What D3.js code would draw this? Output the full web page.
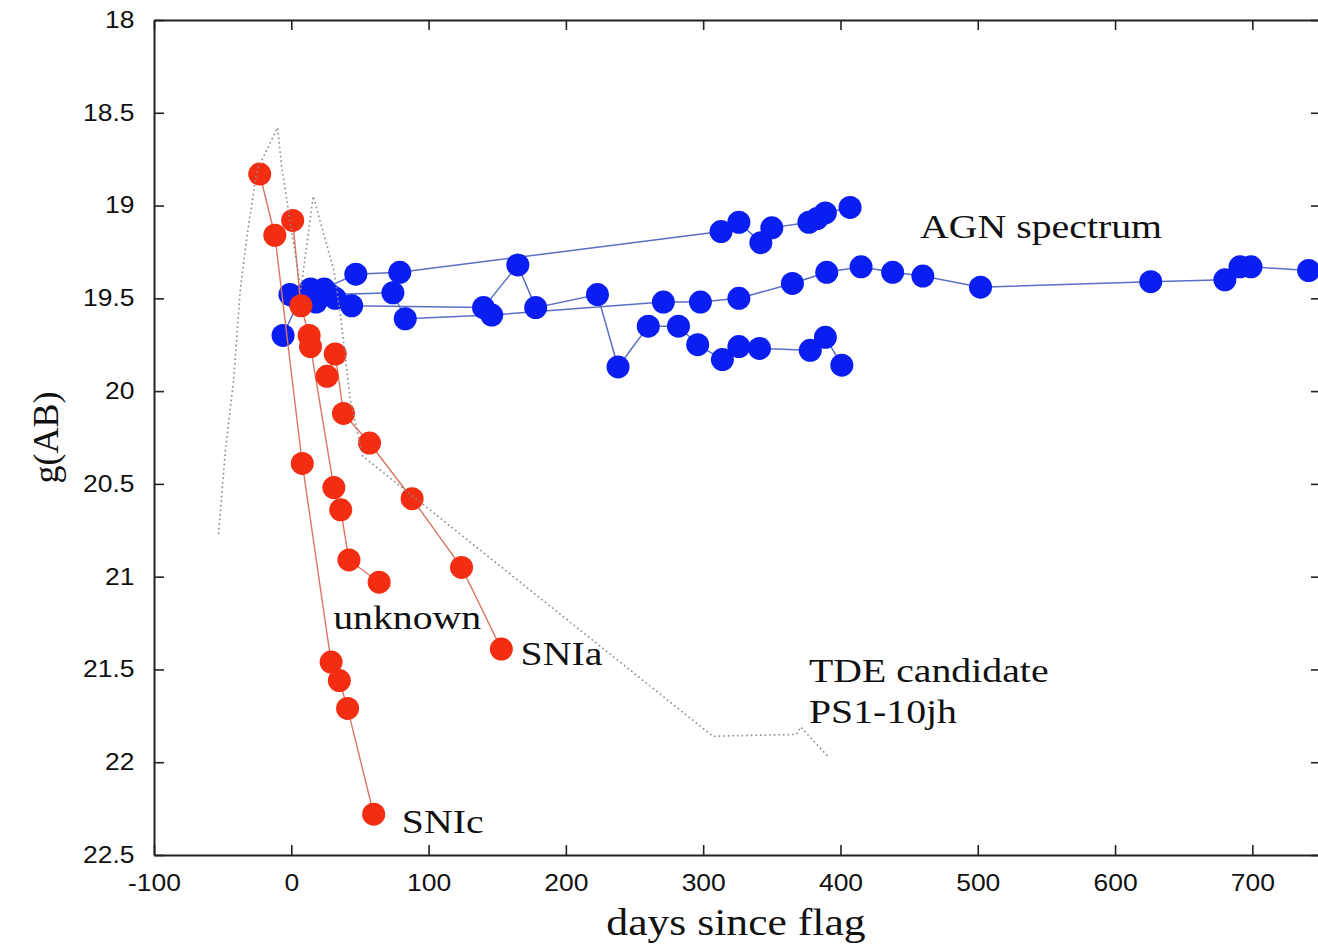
<!DOCTYPE html>
<html>
<head>
<meta charset="utf-8">
<script src="https://cdn.jsdelivr.net/npm/d3@7"></script>
<style>
  html, body { margin: 0; padding: 0; background: #fff; }
  svg { display: block; }
</style>
</head>
<body>
<div id="chart"></div>
<script>
// axis ticks
var xTicks = [-100, 0, 100, 200, 300, 400, 500, 600, 700];
var yTicks = [18, 18.5, 19, 19.5, 20, 20.5, 21, 21.5, 22, 22.5];

// supernovae (red)
var snicDays = [-23, -12, 8, 29, 35, 41, 60];
var snicMags = [18.83, 19.16, 20.39, 21.46, 21.56, 21.71, 22.28];

var unknownDays = [1, 7, 13, 14, 31, 36, 42, 64];
var unknownMags = [19.08, 19.54, 19.70, 19.76, 20.52, 20.64, 20.91, 21.03];

var sniaDays = [26, 32, 38, 57, 88, 124, 153];
var sniaMags = [19.92, 19.80, 20.12, 20.28, 20.58, 20.95, 21.39];

// AGN-like light curves (blue)
var agnTopDays = [-6, 7, 20, 47, 79, 313, 326, 342, 350, 377, 383, 389, 407];
var agnTopMags = [19.70, 19.49, 19.46, 19.37, 19.36, 19.14, 19.09, 19.20, 19.12, 19.09, 19.07, 19.04, 19.01];

var agnMidDays = [-1, 14, 28, 74, 83, 146, 271, 298, 326, 365, 390, 415, 438, 460, 502, 626, 680, 691, 699, 741];
var agnMidMags = [19.48, 19.45, 19.48, 19.47, 19.61, 19.59, 19.52, 19.52, 19.50, 19.42, 19.36, 19.33, 19.36, 19.38, 19.44, 19.41, 19.40, 19.33, 19.33, 19.35];

var agnLowDays = [4, 18, 24, 32, 44, 140, 165, 178, 223, 238, 260, 282, 296, 314, 326, 341, 378, 389, 401];
var agnLowMags = [19.50, 19.52, 19.45, 19.50, 19.54, 19.55, 19.32, 19.55, 19.48, 19.87, 19.65, 19.65, 19.75, 19.83, 19.76, 19.77, 19.78, 19.71, 19.86];

// TDE candidate PS1-10jh (dotted)
var tdeDays = [-53, -48, -42, -37, -32, -25, -10, -7, -1, 7, 16, 31, 36, 43, 52, 307, 368, 371, 391];
var tdeMags = [20.77, 20.32, 19.94, 19.44, 19.15, 18.81, 18.58, 18.79, 19.08, 19.45, 18.95, 19.35, 19.60, 20.05, 20.35, 21.86, 21.85, 21.81, 21.97];

var W = 1318, H = 946;
var margin = {left: 154, top: 20, right: 1321, bottom: 855};

var sans = "'Liberation Sans', Arial, Helvetica, sans-serif";
var serif = "'Liberation Serif', 'Times New Roman', serif";
var stretch = 1.15;   // glyphs in the original are a bit wide

var x = d3.scaleLinear().domain([-100, 750]).range([margin.left, margin.right]);
var y = d3.scaleLinear().domain([18, 22.5]).range([margin.top, margin.bottom]);

var svg = d3.select("#chart").append("svg")
    .attr("width", W)
    .attr("height", H);

function zipSeries(days, mags) {
    return days.map(function(d, i) { return {d: d, m: mags[i]}; });
}

var line = d3.line()
    .x(function(p) { return x(p.d); })
    .y(function(p) { return y(p.m); });

// axes, ticks pointing inward
function styleAxis(g) {
    g.select(".domain").attr("stroke", "#222").attr("stroke-width", 2);
    g.selectAll(".tick line").attr("stroke", "#222").attr("stroke-width", 1.6);
}

svg.append("g")
    .attr("transform", "translate(" + margin.left + ",0)")
    .call(d3.axisLeft(y).tickValues(yTicks).tickSizeInner(-10).tickSizeOuter(0).tickPadding(17)
        .tickFormat(function(v) { return String(v); }))
    .call(styleAxis)
    .call(function(g) {
        g.selectAll(".tick text")
            .attr("font-family", sans).attr("font-size", 23).attr("fill", "#111")
            .attr("transform", "scale(" + stretch + ",1)");
    });

svg.append("g")
    .attr("transform", "translate(0," + margin.bottom + ")")
    .call(d3.axisBottom(x).tickValues(xTicks).tickSizeInner(-10).tickSizeOuter(0).tickPadding(20)
        .tickFormat(function(v) { return String(v); }))
    .call(styleAxis)
    .call(function(g) {
        g.selectAll(".tick text")
            .attr("font-family", sans).attr("font-size", 23).attr("fill", "#111")
            .attr("transform", "scale(" + stretch + ",1)");
    });

svg.append("g")
    .attr("transform", "translate(0," + margin.top + ")")
    .call(d3.axisTop(x).tickValues(xTicks).tickSizeInner(-10).tickSizeOuter(0).tickFormat(""))
    .call(styleAxis);

svg.append("g")
    .attr("transform", "translate(" + margin.right + ",0)")
    .call(d3.axisRight(y).tickValues(yTicks).tickSizeInner(-10).tickSizeOuter(0).tickFormat(""))
    .call(styleAxis);

// axis titles
svg.append("text")
    .attr("transform", "translate(" + ((margin.left + W) / 2) + ",935) scale(1.18,1)")
    .attr("text-anchor", "middle")
    .attr("font-family", serif).attr("font-size", 37).attr("fill", "#111")
    .text("days since flag");

svg.append("text")
    .attr("transform", "translate(58," + ((margin.top + margin.bottom) / 2) + ") rotate(-90)")
    .attr("text-anchor", "middle")
    .attr("font-family", serif).attr("font-size", 36).attr("fill", "#111")
    .text("g(AB)");

var plot = svg.append("g");

// blue series
var agn = [zipSeries(agnTopDays, agnTopMags), zipSeries(agnMidDays, agnMidMags), zipSeries(agnLowDays, agnLowMags)];
agn.forEach(function(s) {
    plot.append("path")
        .datum(s)
        .attr("d", line)
        .attr("fill", "none")
        .attr("stroke", "#5b6fc4")
        .attr("stroke-width", 1.5);
});
agn.forEach(function(s) {
    plot.append("g").selectAll("circle")
        .data(s)
        .enter().append("circle")
        .attr("cx", function(p) { return x(p.d); })
        .attr("cy", function(p) { return y(p.m); })
        .attr("r", 11.5)
        .attr("fill", "#0a1ef2");
});

// red series
var sne = [zipSeries(snicDays, snicMags), zipSeries(unknownDays, unknownMags), zipSeries(sniaDays, sniaMags)];
sne.forEach(function(s) {
    plot.append("path")
        .datum(s)
        .attr("d", line)
        .attr("fill", "none")
        .attr("stroke", "#dc7462")
        .attr("stroke-width", 1.4);
});
sne.forEach(function(s) {
    plot.append("g").selectAll("circle")
        .data(s)
        .enter().append("circle")
        .attr("cx", function(p) { return x(p.d); })
        .attr("cy", function(p) { return y(p.m); })
        .attr("r", 11.5)
        .attr("fill", "#f32d12");
});

// TDE dotted curve on top
plot.append("path")
    .datum(zipSeries(tdeDays, tdeMags))
    .attr("d", line)
    .attr("fill", "none")
    .attr("stroke", "#8a8a8a")
    .attr("stroke-width", 1.6)
    .attr("stroke-dasharray", "1.6,3");

// annotations (data coords)
var notes = [
    {t: "AGN spectrum", d: 458, m: 19.175},
    {t: "unknown", d: 30.5, m: 21.28},
    {t: "SNIa", d: 167, m: 21.475},
    {t: "SNIc", d: 80.5, m: 22.38},
    {t: "TDE candidate", d: 377, m: 21.57},
    {t: "PS1-10jh", d: 377, m: 21.79}
];
svg.append("g").selectAll("text")
    .data(notes)
    .enter().append("text")
    .attr("transform", function(n) {
        return "translate(" + x(n.d) + "," + y(n.m) + ") scale(" + 1.17 + ",1)";
    })
    .attr("font-family", serif).attr("font-size", 34).attr("fill", "#111")
    .text(function(n) { return n.t; });
</script>
</body>
</html>
